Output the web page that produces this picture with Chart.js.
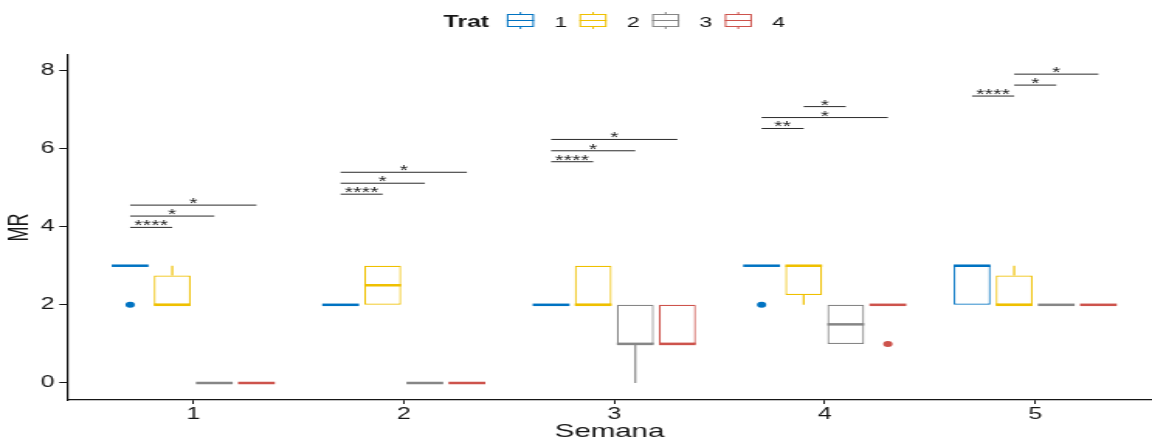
<!DOCTYPE html>
<html>
<head>
<meta charset="utf-8">
<script src="https://cdn.jsdelivr.net/npm/chart.js@4.4.1/dist/chart.umd.min.js"></script>
<style>
  html, body { margin: 0; padding: 0; background: #fff; overflow: hidden; }
  /* the plot is laid out on a narrow canvas and widened to the window */
  #wrap { position: relative; width: 743px; height: 443px; transform: scaleX(1.5505); transform-origin: 0 0; }
</style>
</head>
<body>
<div id="wrap"><canvas id="c"></canvas></div>
<script>
// ---- data -------------------------------------------------------------
const weeks = [1, 2, 3, 4, 5];
const trats = ['1', '2', '3', '4'];
const tratColors = ['#0073C2', '#EFC000', '#868686', '#CD534C'];
const yTicks = [0, 2, 4, 6, 8];

// box statistics per treatment, one value per week
const q1T1 = [3, 2, 2, 3, 2],    q3T1 = [3, 2, 2, 3, 3],       medT1 = [3, 2, 2, 3, 3],   loT1 = [3, 2, 2, 3, 2], hiT1 = [3, 2, 2, 3, 3];
const q1T2 = [2, 2, 2, 2.25, 2], q3T2 = [2.75, 3, 3, 3, 2.75], medT2 = [2, 2.5, 2, 3, 2], loT2 = [2, 2, 2, 2, 2], hiT2 = [3, 3, 3, 3, 3];
const q1T3 = [0, 0, 1, 1, 2],    q3T3 = [0, 0, 2, 2, 2],       medT3 = [0, 0, 1, 1.5, 2], loT3 = [0, 0, 0, 1, 2], hiT3 = [0, 0, 2, 2, 2];
const q1T4 = [0, 0, 1, 2, 2],    q3T4 = [0, 0, 2, 2, 2],       medT4 = [0, 0, 1, 2, 2],   loT4 = [0, 0, 1, 2, 2], hiT4 = [0, 0, 2, 2, 2];

// outlying observations
const outWeek  = [1, 4, 4];
const outTrat  = [1, 1, 4];
const outValue = [2, 2, 1];

// pairwise comparisons
const bracketWeek  = [1, 1, 1, 2, 2, 2, 3, 3, 3, 4, 4, 4, 5, 5, 5];
const bracketFrom  = [1, 1, 1, 1, 1, 1, 1, 1, 1, 1, 1, 2, 1, 2, 2];
const bracketTo    = [2, 3, 4, 2, 3, 4, 2, 3, 4, 2, 4, 3, 2, 3, 4];
const bracketY     = [3.98, 4.27, 4.55, 4.83, 5.11, 5.39, 5.66, 5.94, 6.23, 6.51, 6.79, 7.07, 7.34, 7.62, 7.90];
const bracketLabel = ['****', '*', '*', '****', '*', '*', '****', '*', '*', '**', '*', '*', '****', '*', '*'];

// ---- assembly ---------------------------------------------------------
const stats = [
  { q1: q1T1, q3: q3T1, med: medT1, lo: loT1, hi: hiT1 },
  { q1: q1T2, q3: q3T2, med: medT2, lo: loT2, hi: hiT2 },
  { q1: q1T3, q3: q3T3, med: medT3, lo: loT3, hi: hiT3 },
  { q1: q1T4, q3: q3T4, med: medT4, lo: loT4, hi: hiT4 }
];

const FONT = "'Liberation Sans', Arial, Helvetica, sans-serif";
const INK = '#161616';
Chart.defaults.font.family = FONT;
Chart.defaults.color = INK;

const datasets = trats.map((t, i) => ({
  label: t,
  data: weeks.map((w, j) => ({ x: w, y: [stats[i].q1[j], stats[i].q3[j]] })),
  backgroundColor: '#ffffff',
  borderColor: tratColors[i],
  borderWidth: 1.2,
  borderSkipped: false,
  categoryPercentage: 0.8,
  barPercentage: 0.875
}));

function seg(ctx, x1, y1, x2, y2) {
  ctx.beginPath(); ctx.moveTo(x1, y1); ctx.lineTo(x2, y2); ctx.stroke();
}

// whiskers, medians and outliers on top of the boxes
const boxParts = {
  id: 'boxParts',
  afterDatasetsDraw(chart) {
    const { ctx } = chart;
    const y = chart.scales.y;
    ctx.save();
    ctx.lineCap = 'butt';
    trats.forEach((t, ti) => {
      const meta = chart.getDatasetMeta(ti);
      const st = stats[ti];
      meta.data.forEach((bar, wi) => {
        const { x, width } = bar.getProps(['x', 'width'], true);
        ctx.strokeStyle = tratColors[ti];
        ctx.lineWidth = 1.2;
        if (st.hi[wi] > st.q3[wi]) seg(ctx, x, y.getPixelForValue(st.q3[wi]), x, y.getPixelForValue(st.hi[wi]));
        if (st.lo[wi] < st.q1[wi]) seg(ctx, x, y.getPixelForValue(st.q1[wi]), x, y.getPixelForValue(st.lo[wi]));
        ctx.lineWidth = 2.5;
        const ym = y.getPixelForValue(st.med[wi]);
        seg(ctx, x - width / 2, ym, x + width / 2, ym);
      });
    });
    outWeek.forEach((w, k) => {
      const ti = outTrat[k] - 1;
      const bar = chart.getDatasetMeta(ti).data[weeks.indexOf(w)];
      const { x } = bar.getProps(['x'], true);
      ctx.fillStyle = tratColors[ti];
      ctx.beginPath();
      ctx.arc(x, y.getPixelForValue(outValue[k]), 3, 0, Math.PI * 2);
      ctx.fill();
    });
    // significance brackets
    ctx.strokeStyle = '#2a2a2a';
    ctx.fillStyle = '#1e1e1e';
    ctx.lineWidth = 1;
    ctx.font = '14px ' + FONT;
    ctx.textAlign = 'center';
    ctx.textBaseline = 'alphabetic';
    bracketWeek.forEach((w, k) => {
      const wi = weeks.indexOf(w);
      const a = chart.getDatasetMeta(bracketFrom[k] - 1).data[wi].getProps(['x'], true).x;
      const b = chart.getDatasetMeta(bracketTo[k] - 1).data[wi].getProps(['x'], true).x;
      const yy = y.getPixelForValue(bracketY[k]);
      seg(ctx, a, yy, b, yy);
      ctx.fillText(bracketLabel[k], (a + b) / 2, yy + 3);
    });
    ctx.restore();
  }
};

// legend with box-plot keys, centred over the panel
const boxLegend = {
  id: 'boxLegend',
  afterDraw(chart) {
    const { ctx } = chart;
    const xs = chart.scales.x;
    const baseY = 26.7;
    const keyW = 17.5, keyTop = 14.5, keyBot = 26.5, whTop = 12, whBot = 29;
    const gapTitle = 11.5, gapKey = 13, gapItem = 8;
    ctx.save();
    ctx.font = 'bold 16px ' + FONT;
    const titleW = ctx.measureText('Trat').width;
    ctx.font = '15px ' + FONT;
    const labW = trats.map(t => ctx.measureText(t).width);
    let total = titleW + gapTitle;
    labW.forEach((lw, i) => { total += keyW + gapKey + lw + (i < trats.length - 1 ? gapItem : 0); });
    const cx = xs.getPixelForValue((xs.min + 5.6) / 2);
    let x = cx - total / 2;
    ctx.fillStyle = INK;
    ctx.textBaseline = 'alphabetic';
    ctx.textAlign = 'left';
    ctx.font = 'bold 16px ' + FONT;
    ctx.fillText('Trat', x, baseY);
    x += titleW + gapTitle;
    ctx.font = '15px ' + FONT;
    trats.forEach((t, i) => {
      ctx.strokeStyle = tratColors[i];
      ctx.lineWidth = 1;
      ctx.strokeRect(x + 0.5, keyTop, keyW - 1, keyBot - keyTop);
      const mid = (keyTop + keyBot) / 2;
      seg(ctx, x, mid, x + keyW, mid);
      seg(ctx, x + keyW / 2, whTop, x + keyW / 2, keyTop);
      seg(ctx, x + keyW / 2, keyBot, x + keyW / 2, whBot);
      x += keyW + gapKey;
      ctx.fillStyle = INK;
      ctx.fillText(t, x, baseY);
      x += labW[i] + gapItem;
    });
    ctx.restore();
  }
};

new Chart(document.getElementById('c'), {
  type: 'bar',
  data: { datasets },
  plugins: [boxParts, boxLegend],
  options: {
    responsive: true,
    maintainAspectRatio: false,
    animation: false,
    events: [],
    layout: { padding: { top: 55, left: 0, right: 0, bottom: 0 } },
    plugins: { legend: { display: false }, tooltip: { enabled: false } },
    scales: {
      x: {
        type: 'linear',
        offset: false,
        min: 0.4,
        max: 5.555,
        afterBuildTicks: s => { s.ticks = weeks.map(v => ({ value: v })); },
        afterFit: s => { s.height = 43; },
        grid: { offset: false, drawOnChartArea: false, drawTicks: true, tickLength: 4, tickColor: INK, tickWidth: 1 },
        border: { display: true, color: INK, width: 1.2 },
        ticks: { color: INK, font: { size: 16 }, padding: 1, maxRotation: 0 },
        title: { display: true, text: 'Semana', color: INK, font: { size: 19 }, padding: { top: 0, bottom: 0 } }
      },
      y: {
        min: -0.435,
        max: 8.39,
        afterBuildTicks: s => { s.ticks = yTicks.map(v => ({ value: v })); },
        afterFit: s => { s.width = 43.2; },
        grid: { drawOnChartArea: false, drawTicks: true, tickLength: 5, tickColor: INK, tickWidth: 1 },
        border: { display: true, color: INK, width: 1.2 },
        ticks: { color: INK, font: { size: 16 }, padding: 3 },
        title: { display: true, text: 'MR', color: INK, font: { size: 18 }, padding: { top: 2, bottom: 0 } }
      }
    }
  }
});
</script>
</body>
</html>
